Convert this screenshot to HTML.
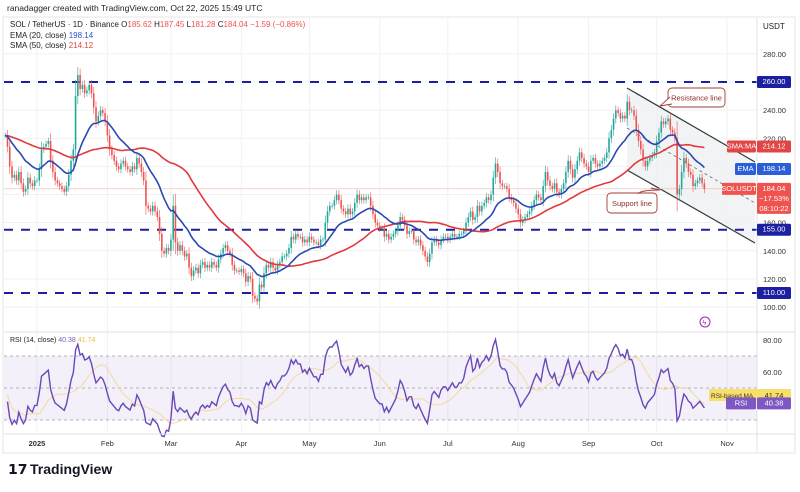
<!DOCTYPE html>
<html><head><meta charset="utf-8"><style>
body{margin:0;background:#fff;width:800px;height:487px;overflow:hidden;font-family:"Liberation Sans",sans-serif}
svg text{font-family:"Liberation Sans",sans-serif}
</style></head><body>
<svg id="c" width="800" height="487" viewBox="0 0 800 487" xmlns="http://www.w3.org/2000/svg">
<rect x="0" y="0" width="800" height="487" fill="#fff"/>
<text x="7" y="11" font-size="8.5" fill="#222">ranadagger created with TradingView.com, Oct 22, 2025 15:49 UTC</text>
<rect x="3" y="17" width="792" height="436" fill="none" stroke="#e6e6e6"/>
<g id="grid"></g>
<g id="zones"></g>
<g id="candles"></g>
<g id="mas"></g>
<g id="rsi"></g>
<g id="axes"></g>
<g>
<text x="10" y="27" font-size="8" fill="#222">SOL / TetherUS · 1D · Binance <tspan>O</tspan><tspan fill="#ef5350">185.62</tspan> H<tspan fill="#ef5350">187.45</tspan> L<tspan fill="#ef5350">181.28</tspan> C<tspan fill="#ef5350">184.04</tspan> <tspan fill="#ef5350">−1.59 (−0.86%)</tspan></text>
<text x="10" y="38" font-size="8" fill="#222">EMA (20, close) <tspan fill="#2b54c9">198.14</tspan></text>
<text x="10" y="48" font-size="8" fill="#222">SMA (50, close) <tspan fill="#e04646">214.12</tspan></text>
<text x="763" y="29" font-size="8" fill="#222">USDT</text>
</g>
<g>
<text x="8" y="474" font-size="14" font-weight="bold" fill="#131722">𝟭𝟳</text>
<text x="30" y="474" font-size="14" font-weight="bold" fill="#131722">TradingView</text>
</g>
<g><circle cx="705" cy="322" r="5" fill="none" stroke="#9c27b0" stroke-width="1"/><text x="702.5" y="325" font-size="7" fill="#9c27b0">ϟ</text></g>
</svg>
<script>
const dec=[222,214,200,192,194,190,196,188,182,184,192,188,186,190];
const jan=[190,198,212,214,216,218,204,196,190,188,186,184,182,186,194,204,212,250,265,255,258,252,254,258,252,242,232,236,240,238,232];
const feb=[222,212,208,204,200,198,202,204,200,198,196,200,198,206,202,196,190,172,170,168,172,168,164,152,140,138,142,140];
const mar=[148,172,146,140,144,140,136,138,128,122,126,128,124,130,132,128,130,128,132,130,128,134,138,142,144,140,138,130,126,126,125];
const apr=[127,124,118,122,120,108,106,104,116,114,124,130,128,132,128,126,130,132,136,136,138,142,150,148,152,150,150,146,148,146];
const may=[150,148,146,146,144,148,148,160,168,172,172,176,180,176,170,168,166,170,166,168,174,180,176,178,176,178,178,172,166,160,158];
const jun=[156,156,150,152,148,150,152,154,158,164,162,158,152,154,154,148,146,148,144,140,136,132,138,146,148,146,144,148,150,150];
const jul=[148,150,152,150,150,152,152,154,160,164,168,162,164,172,168,172,174,178,176,180,192,202,196,188,186,186,184,178,176,174,170];
const aug=[166,160,162,164,166,168,172,176,180,178,176,186,196,190,186,184,188,182,180,184,188,196,204,198,192,198,204,210,206,202,200];
const sep=[196,204,206,202,200,202,204,206,210,220,226,234,240,238,234,236,234,246,240,240,236,226,218,212,204,200,204,206,208,210];
const oct=[218,224,232,230,232,234,226,224,220,180,184,196,206,202,196,194,186,188,190,192,188,184];
const closes=[].concat(dec,jan,feb,mar,apr,may,jun,jul,aug,sep,oct);
const priceTicks=[280,240,220,160,140,120,100];
const levels=[260,155,110];
const monthLabels=["2025","Feb","Mar","Apr","May","Jun","Jul","Aug","Sep","Oct","Nov"];
const monthDay=[14,45,73,104,134,165,195,226,257,287,318];
const rsiTicks=[80,60];

const NS="http://www.w3.org/2000/svg";
const X=i=>5.2+i*2.27;
const Y=p=>82+(260-p)*1.4067;
const RY=v=>372-(v-60)*1.6;
function mk(parent,tag,a){const e=document.createElementNS(NS,tag);for(const k in a)e.setAttribute(k,a[k]);parent.appendChild(e);return e;}
const G=id=>document.getElementById(id);
const grid=G('grid'),zones=G('zones'),cg=G('candles'),mg=G('mas'),rg=G('rsi'),ax=G('axes');

monthDay.forEach((d,k)=>{const l=mk(grid,'line',{x1:X(d),x2:X(d),y1:18,y2:432,stroke:'#f1f1f1'});

});
[280,260,240,220,200,180,160,140,120,100].forEach(p=>{const l=mk(grid,'line',{x1:4,x2:757,y1:Y(p),y2:Y(p),stroke:'#f1f1f1'});

});

const ch=mk(zones,'polygon',{points:'627,88 755,162 755,243 627,170',fill:'#eef0f3',opacity:'0.8'});


const rl=mk(zones,'line',{x1:627,y1:88,x2:755,y2:162,stroke:'#2f3a3a','stroke-width':1.2});


const sl=mk(zones,'line',{x1:627,y1:170,x2:755,y2:243,stroke:'#2f3a3a','stroke-width':1.2});


const ml=mk(zones,'line',{x1:627,y1:128,x2:755,y2:203,stroke:'#666','stroke-width':0.8,'stroke-dasharray':'3,3'});


const lp=mk(zones,'line',{x1:4,x2:757,y1:Y(184.04),y2:Y(184.04),stroke:'#f3b5b5','stroke-width':0.6});


levels.forEach(v=>{const l=mk(zones,'line',{x1:4,x2:757,y1:Y(v),y2:Y(v),stroke:'#1c1fa0','stroke-width':2,'stroke-dasharray':'9,8'});

});

closes.forEach((c,i)=>{const o=i?closes[i-1]:c;const up=c>=o;const col=up?'#26a69a':'#ef5350';
const hi=Math.max(o,c)+Math.abs(c-o)*0.25+2,lo=Math.min(o,c)-Math.abs(c-o)*0.25-2;
const w=mk(cg,'line',{x1:X(i),x2:X(i),y1:Y(hi),y2:Y(lo),stroke:col,'stroke-width':0.6});


const r=mk(cg,'rect',{x:X(i)-0.8,y:Y(Math.max(o,c)),width:1.6,height:Math.max(0.7,Math.abs(Y(o)-Y(c))),fill:col});

});

const ema=[];closes.forEach((c,i)=>ema.push(i?ema[i-1]+(c-ema[i-1])*2/21:c));
const sma=closes.map((c,i)=>{const s=closes.slice(Math.max(0,i-49),i+1);return (s.reduce((a,b)=>a+b,0)+ (50-s.length)*222)/50;});
function path(arr,f,start){start=start||0;let d='';for(let i=start;i<arr.length;i++)d+=(i>start?'L':'M')+X(i).toFixed(1)+','+f(arr[i]).toFixed(1);return d;}
const sp=mk(mg,'path',{d:path(sma,Y),fill:'none',stroke:'#e0393e','stroke-width':1.6});


const ep=mk(mg,'path',{d:path(ema,Y),fill:'none',stroke:'#2b4ab0','stroke-width':1.6});



const rsi=[50];let ag=1.5,al=1.5;
for(let i=1;i<closes.length;i++){const d=closes[i]-closes[i-1];const g=Math.max(d,0),l=Math.max(-d,0);
ag=(ag*13+g)/14;al=(al*13+l)/14;rsi.push(al===0?100:100-100/(1+ag/al));}
const rma=rsi.map((v,i)=>{const s=rsi.slice(Math.max(0,i-13),i+1);return s.reduce((a,b)=>a+b,0)/s.length;});
const sep1=mk(rg,'line',{x1:4,x2:795,y1:332,y2:332,stroke:'#e0e0e0'});


const band=mk(rg,'rect',{x:4,y:RY(70),width:753,height:RY(30)-RY(70),fill:'#7e57c2',opacity:'0.09'});


[70,50,30].forEach(v=>{const l=mk(rg,'line',{x1:4,x2:757,y1:RY(v),y2:RY(v),stroke:'#9e9e9e','stroke-width':0.7,'stroke-dasharray':'3,3'});

});
const rm=mk(rg,'path',{d:path(rma,RY,1),fill:'none',stroke:'#f3d9a0','stroke-width':1});


const rl2=mk(rg,'path',{d:path(rsi,RY,1),fill:'none',stroke:'#6a48b8','stroke-width':1.4});


const rt=mk(rg,'text',{x:10,y:342,'font-size':7,fill:'#222'});rt.innerHTML='RSI (14, close) <tspan fill="#7e57c2">40.38</tspan> <tspan fill="#e6c04a">41.74</tspan>';



const vs=mk(ax,'line',{x1:757,x2:757,y1:18,y2:452,stroke:'#e0e0e0'});


const ts=mk(ax,'line',{x1:4,x2:795,y1:434,y2:434,stroke:'#e0e0e0'});


priceTicks.forEach(p=>{const t=mk(ax,'text',{x:763,y:Y(p)+3,'font-size':7.5,fill:'#333'});t.textContent=p.toFixed(2);

});
rsiTicks.forEach(v=>{const t=mk(ax,'text',{x:763,y:RY(v)+3,'font-size':7.5,fill:'#333'});t.textContent=v.toFixed(2);

});
monthLabels.forEach((m,k)=>{const t=mk(ax,'text',{x:X(monthDay[k]),y:446,'font-size':7.5,fill:'#333','text-anchor':'middle','font-weight':k?'normal':'bold'});t.textContent=m;

});
function box(x,y,w,h,fill,txt,name){const g=mk(ax,'g',{});


mk(g,'rect',{x:x,y:y,width:w,height:h,fill:fill,rx:1.5});
txt.forEach((s,j)=>{const t=mk(g,'text',{x:x+w/2,y:y+8+j*10,'font-size':7.5,fill:'#fff','text-anchor':'middle'});t.textContent=s;});}
levels.forEach(v=>box(757,Y(v)-6,34,12,'#1c1fa0',[v.toFixed(2)],'level-label-'+v));
box(727,Y(214.12)-6,29,12,'#e04646',['SMA:MA'],'sma-tag');
box(757,Y(214.12)-6,34,12,'#e04646',['214.12'],'sma-value');
box(735,Y(198.14)-6,21,12,'#2b5fd9',['EMA'],'ema-tag');
box(757,Y(198.14)-6,34,12,'#2b5fd9',['198.14'],'ema-value');
box(722,Y(184.04)-6,34,12,'#ef5350',['SOLUSDT'],'symbol-tag');
box(757,Y(184.04)-6,34,31,'#ef5350',['184.04','−17.53%','08:10:22'],'price-value');
const yb=mk(ax,'g',{});


mk(yb,'rect',{x:709,y:389,width:82,height:12,fill:'#f7df6a'});
const yt=mk(yb,'text',{x:711,y:398,'font-size':6.5,fill:'#333'});yt.textContent='RSI-based MA';
const yv=mk(yb,'text',{x:774,y:398,'font-size':7.5,fill:'#333','text-anchor':'middle'});yv.textContent='41.74';
box(726,RY(40.38)-6,30,12,'#7e57c2',['RSI'],'rsi-tag');
box(757,RY(40.38)-6,34,12,'#7e57c2',['40.38'],'rsi-value');

function note(x,y,w,h,txt,name,px,py){const g=mk(ax,'g',{});


mk(g,'rect',{x:x,y:y,width:w,height:h,rx:4,fill:'#fff',stroke:'#a33c3c','stroke-width':0.9});
if(px!==undefined)mk(g,'path',{d:`M${x+4},${y+h-3} L${px},${py} L${x+2},${y+h-10}`,fill:'#fff',stroke:'#a33c3c','stroke-width':0.9});
const t=mk(g,'text',{x:x+w/2,y:y+h/2+3,'font-size':7.5,fill:'#8b2c2c','text-anchor':'middle'});t.textContent=txt;}
note(668,88,57,19,'Resistance line','resistance-label',660,106);
note(607,193,50,20,'Support line','support-label');
const sw=mk(ax,'path',{d:'M638,194 Q640,190 660,190 L651,188',fill:'none',stroke:'#a33c3c','stroke-width':0.9});


</script>
</body></html>
